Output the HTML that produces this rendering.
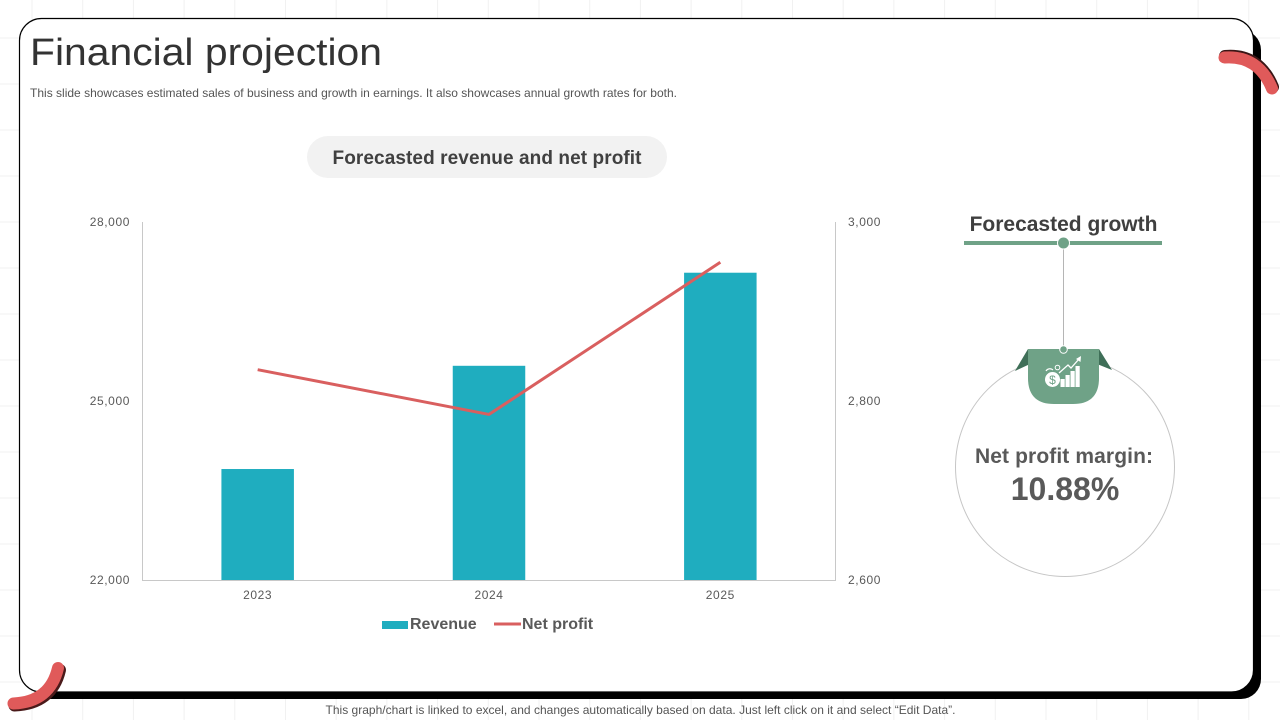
<!DOCTYPE html>
<html>
<head>
<meta charset="utf-8">
<title>Financial projection</title>
<style>
html,body{margin:0;padding:0;background:#fff;width:1280px;height:720px;overflow:hidden}
svg{display:block}
text{font-family:"Liberation Sans",sans-serif}
</style>
</head>
<body>
<svg id="slide" width="1280" height="720" viewBox="0 0 1280 720" xmlns="http://www.w3.org/2000/svg">
  <g id="bg-grid"></g>

  <rect x="30" y="30" width="1231" height="669" rx="20" fill="#000"/>
  <rect x="19.5" y="18.5" width="1234" height="673.5" rx="22" fill="#fff" stroke="#000" stroke-width="1.2"/>

  <g fill="none" stroke-linecap="round">
    <path d="M1225,56 Q1259,53 1273,87" stroke="#3a1616" stroke-width="12"/>
    <path d="M1224.5,57.5 Q1258,55 1272,88.5" stroke="#e05a5a" stroke-width="12"/>
  </g>
  <g fill="none" stroke-linecap="round">
    <path d="M14.5,705.5 Q52,704 60,670" stroke="#4a1a1a" stroke-width="12"/>
    <path d="M13.5,703.5 Q50,702 58,668" stroke="#e05a5a" stroke-width="12"/>
  </g>

  <text x="30" y="65" font-size="38" fill="#333" textLength="352" lengthAdjust="spacingAndGlyphs">Financial projection</text>
  <text x="30" y="97" font-size="12" fill="#555" textLength="647" lengthAdjust="spacing">This slide showcases estimated sales of business and growth in earnings. It also showcases annual growth rates for both.</text>

  <rect x="307" y="136" width="360" height="42" rx="21" fill="#f2f2f2"/>
  <text x="487" y="164" font-size="19" font-weight="bold" fill="#404040" text-anchor="middle" textLength="309" lengthAdjust="spacing">Forecasted revenue and net profit</text>

  <g id="chart"></g>

  <g>
    <rect x="382" y="621" width="26" height="8" fill="#1fadbf"/>
    <text x="410" y="629" font-size="16" font-weight="bold" fill="#595959">Revenue</text>
    <line x1="494" y1="624" x2="521" y2="624" stroke="#d95f5f" stroke-width="3"/>
    <text x="522" y="629" font-size="16" font-weight="bold" fill="#595959">Net profit</text>
  </g>

  <g>
    <text x="1063.5" y="231" font-size="21" font-weight="bold" fill="#3f3f3f" text-anchor="middle">Forecasted growth</text>
    <rect x="964" y="241" width="198" height="4" fill="#6fa287"/>
    <line x1="1063.5" y1="245" x2="1063.5" y2="349" stroke="#b5b5b5" stroke-width="1"/>
    <circle cx="1063.5" cy="243" r="6" fill="#6fa287" stroke="#fff" stroke-width="1"/>
    <circle cx="1065" cy="467" r="109.5" fill="#fff" stroke="#c6c6c6" stroke-width="1"/>
    <polygon points="1028,349 1015,371 1030,364" fill="#3f6f58"/>
    <polygon points="1099,349 1112,370 1097,364" fill="#3f6f58"/>
    <path d="M1028,349 H1099 V378 Q1099,404 1073,404 H1054 Q1028,404 1028,378 Z" fill="#6fa287"/>
    <circle cx="1063.5" cy="349.5" r="3.8" fill="#6fa287" stroke="#fff" stroke-width="1"/>
    <g>
      <circle cx="1052.5" cy="379.5" r="7.5" fill="#fff"/>
      <text x="1052.5" y="384" font-size="12" fill="#6fa287" text-anchor="middle">$</text>
      <circle cx="1057.5" cy="367.5" r="2.3" fill="none" stroke="#fff" stroke-width="1"/>
      <path d="M1046,371 a4.5,4.5 0 0 1 7,-1" fill="none" stroke="#fff" stroke-width="1.2"/>
      <rect x="1060.5" y="379" width="4.2" height="8" fill="#fff"/>
      <rect x="1065.5" y="375" width="4.2" height="12" fill="#fff"/>
      <rect x="1070.5" y="371" width="4.2" height="16" fill="#fff"/>
      <rect x="1075.5" y="366" width="4.2" height="21" fill="#fff"/>
      <path d="M1059,373 L1068,365 L1071,368 L1079,359" fill="none" stroke="#fff" stroke-width="1.3"/>
      <polygon points="1081,356 1080.5,362 1076,359" fill="#fff"/>
    </g>
    <text x="975" y="463" font-size="21" font-weight="bold" fill="#595959" textLength="178" lengthAdjust="spacing">Net profit margin:</text>
    <text x="1065" y="500" font-size="32" font-weight="bold" fill="#595959" text-anchor="middle">10.88%</text>
  </g>

  <text x="640.5" y="714" font-size="12" fill="#555" text-anchor="middle" textLength="630" lengthAdjust="spacing">This graph/chart is linked to excel, and changes automatically based on data. Just left click on it and select “Edit Data”.</text>
</svg>
<script>
var categories = ["2023", "2024", "2025"];
var revenueValues = [23860, 25590, 27150];
var netProfitValues = [2835, 2785, 2955];
var leftTickLabels = [22000, 25000, 28000];
var rightTickLabels = [2600, 2800, 3000];

var NS = "http://www.w3.org/2000/svg";
var plotLeft = 142, plotRight = 836, plotTop = 222, plotBottom = 580;
var leftMin = 22000, leftMax = 28000, rightMin = 2600, rightMax = 3000;

function yLeft(v) { return plotBottom - (v - leftMin) / (leftMax - leftMin) * (plotBottom - plotTop); }
function yRight(v) { return plotBottom - (v - rightMin) / (rightMax - rightMin) * (plotBottom - plotTop); }
function xCenter(i) { return plotLeft + (i + 0.5) * (plotRight - plotLeft) / categories.length; }
function fmt(v) { return String(v).replace(/\B(?=(\d{3})+$)/g, ","); }
function make(tag, attrs, parent) {
  var el = document.createElementNS(NS, tag);
  for (var k in attrs) el.setAttribute(k, attrs[k]);
  parent.appendChild(el);
  return el;
}

var grid = document.getElementById("bg-grid");
for (var gx = 32; gx < 1280; gx += 50.7) {
  var vLine = make("line", {x1: gx, y1: 0, x2: gx, y2: 720, stroke: "#f1f1f1", "stroke-width": 1}, grid);
  
  
}
for (var gy = 38; gy < 720; gy += 46) {
  var hLine = make("line", {x1: 0, y1: gy, x2: 1280, y2: gy, stroke: "#f1f1f1", "stroke-width": 1}, grid);
  
  
}

var chart = document.getElementById("chart");

var axisLeft = make("line", {x1: plotLeft + 0.5, y1: plotTop, x2: plotLeft + 0.5, y2: plotBottom, stroke: "#c8c8c8", "stroke-width": 1}, chart);


var axisRight = make("line", {x1: plotRight - 0.5, y1: plotTop, x2: plotRight - 0.5, y2: plotBottom, stroke: "#c8c8c8", "stroke-width": 1}, chart);



revenueValues.forEach(function (v, i) {
  var barWidth = 72.5;
  var top = yLeft(v);
  var bar = make("rect", {x: xCenter(i) - barWidth / 2, y: top, width: barWidth, height: plotBottom - top, fill: "#1fadbf"}, chart);
  
  
});

var axisBottom = make("line", {x1: plotLeft, y1: plotBottom + 0.5, x2: plotRight, y2: plotBottom + 0.5, stroke: "#c8c8c8", "stroke-width": 1}, chart);



var linePoints = netProfitValues.map(function (v, i) { return xCenter(i) + "," + yRight(v); }).join(" ");
var profitLine = make("polyline", {points: linePoints, fill: "none", stroke: "#d95f5f", "stroke-width": 3, "stroke-linejoin": "round"}, chart);



function label(text, x, y, anchor, parent) {
  var t = make("text", {x: x, y: y, "font-size": 12, fill: "#595959", "text-anchor": anchor, "letter-spacing": 0.6}, parent);
  t.textContent = text;
  return t;
}
leftTickLabels.forEach(function (v) {
  var t = label(fmt(v), 130, yLeft(v) + 4, "end", chart);
  
  
});
rightTickLabels.forEach(function (v) {
  var t = label(fmt(v), 848, yRight(v) + 4, "start", chart);
  
  
});
categories.forEach(function (c, i) {
  var t = label(c, xCenter(i), 599, "middle", chart);
  
  
});
</script>
</body>
</html>
